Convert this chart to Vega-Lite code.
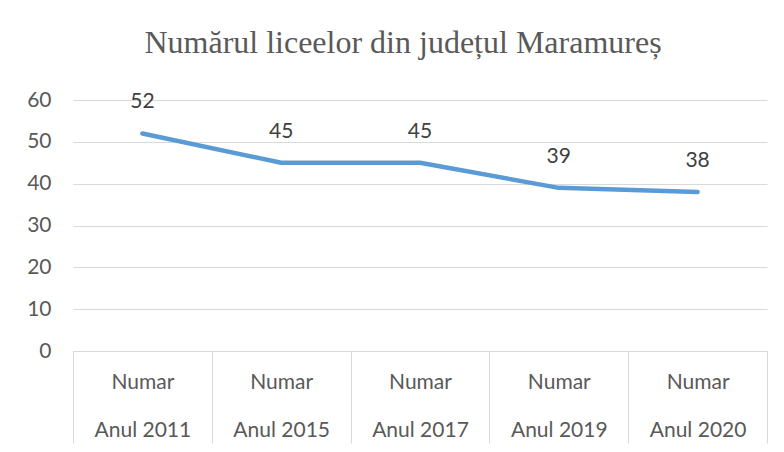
{
  "$schema": "https://vega.github.io/schema/vega-lite/v6.json",
  "width": 694,
  "height": 251,
  "autosize": {"type": "none"},
  "padding": {"left": 73, "top": 100, "right": 17, "bottom": 101},
  "background": "white",
  "title": {
    "text": "Numărul liceelor din județul Maramureș",
    "font": "Liberation Serif",
    "fontSize": 32,
    "fontWeight": "normal",
    "color": "#595959",
    "anchor": "middle",
    "dx": -17,
    "offset": 29
  },
  "data": {
    "values": [
      {"anul": "Anul 2011", "categorie": "Numar", "numar": 52},
      {"anul": "Anul 2015", "categorie": "Numar", "numar": 45},
      {"anul": "Anul 2017", "categorie": "Numar", "numar": 45},
      {"anul": "Anul 2019", "categorie": "Numar", "numar": 39},
      {"anul": "Anul 2020", "categorie": "Numar", "numar": 38}
    ]
  },
  "config": {"view": {"stroke": null}},
  "encoding": {
    "x": {
      "field": "anul",
      "type": "ordinal",
      "sort": null,
      "scale": {"type": "band", "paddingInner": 0, "paddingOuter": 0},
      "axis": {
        "title": null,
        "labelAngle": 0,
        "domainColor": "#d9d9d9",
        "tickBand": "extent",
        "tickColor": "#d9d9d9",
        "tickSize": 92,
        "labelExpr": "datum.value ? ['Numar', datum.value] : ''",
        "labelLineHeight": 48,
        "labelFont": "Lato",
        "labelFontSize": 21,
        "labelColor": "#595959",
        "labelPadding": -72,
        "grid": false
      }
    },
    "y": {
      "field": "numar",
      "type": "quantitative",
      "scale": {"domain": [0, 60], "nice": false},
      "axis": {
        "title": null,
        "values": [0, 10, 20, 30, 40, 50, 60],
        "domain": false,
        "ticks": false,
        "grid": true,
        "gridColor": "#d9d9d9",
        "labelFont": "Lato",
        "labelFontSize": 21,
        "labelColor": "#595959",
        "labelPadding": 22
      }
    }
  },
  "layer": [
    {
      "mark": {"type": "line", "color": "#5b9bd5", "strokeWidth": 4.5, "strokeCap": "round", "strokeJoin": "round"}
    },
    {
      "mark": {"type": "text", "dy": -31, "font": "Lato", "fontSize": 21, "color": "#404040"},
      "encoding": {"text": {"field": "numar", "type": "quantitative"}}
    }
  ]
}
